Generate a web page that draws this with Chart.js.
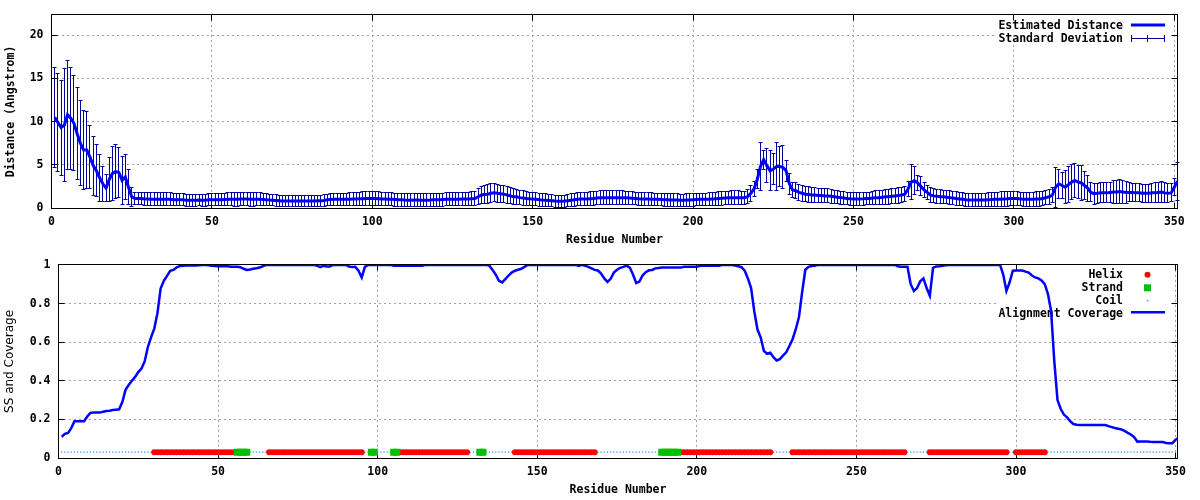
<!DOCTYPE html>
<html><head><meta charset="utf-8">
<script src="https://cdn.jsdelivr.net/npm/chart.js@4.4.0/dist/chart.umd.min.js"></script>
<style>
html,body{margin:0;padding:0;background:#fff;}
#wrap{position:relative;width:1200px;height:500px;background:#fff;}
canvas{position:absolute;left:0;}
#c1{top:0;} #c2{top:250px;}
</style></head><body>
<div id="wrap"><canvas id="c1" width="1200" height="250"></canvas><canvas id="c2" width="1200" height="250"></canvas></div>
<script>
// ---------------- data ----------------
const meanDist = [
10.5, 9.9, 9.3, 9.6, 10.8, 10.4, 9.8, 8.6, 7.5, 6.7,
6.7, 5.9, 4.9, 4.3, 3.5, 2.8, 2.3, 3.3, 4.0, 4.2,
4.1, 3.2, 3.6, 2.4, 1.3, 1.1, 1.1, 1.1, 1.05, 1.05,
1.0, 1.0, 1.0, 1.0, 1.0, 1.0, 1.0, 0.95, 0.95, 0.95,
0.95, 0.9, 0.9, 0.9, 0.9, 0.92, 0.9, 0.9, 0.95, 0.95,
0.95, 0.95, 0.95, 0.98, 1.0, 1.0, 1.0, 1.0, 1.05, 1.05,
1.05, 1.0, 1.0, 1.0, 1.0, 0.98, 0.95, 0.92, 0.9, 0.88,
0.85, 0.82, 0.82, 0.82, 0.8, 0.8, 0.8, 0.8, 0.8, 0.82,
0.82, 0.82, 0.85, 0.85, 0.88, 0.95, 0.98, 1.0, 1.0, 1.0,
1.0, 1.0, 1.02, 1.05, 1.05, 1.07, 1.08, 1.1, 1.1, 1.1,
1.1, 1.08, 1.05, 1.05, 1.02, 1.0, 0.98, 0.95, 0.95, 0.92,
0.9, 0.9, 0.92, 0.92, 0.9, 0.9, 0.9, 0.92, 0.95, 0.95,
0.95, 0.98, 1.0, 1.0, 1.0, 1.02, 1.02, 1.05, 1.05, 1.05,
1.08, 1.1, 1.3, 1.5, 1.57, 1.6, 1.7, 1.77, 1.7, 1.65,
1.6, 1.5, 1.4, 1.3, 1.3, 1.2, 1.15, 1.1, 1.07, 1.05,
1.0, 0.95, 0.92, 0.9, 0.88, 0.85, 0.8, 0.78, 0.78, 0.8,
0.85, 0.9, 0.95, 1.0, 1.04, 1.05, 1.05, 1.08, 1.1, 1.15,
1.18, 1.2, 1.2, 1.2, 1.2, 1.2, 1.2, 1.2, 1.18, 1.15,
1.12, 1.1, 1.07, 1.05, 1.04, 1.04, 1.02, 1.0, 1.0, 0.98,
0.95, 0.95, 0.92, 0.92, 0.92, 0.9, 0.9, 0.92, 0.92, 0.95,
0.98, 1.0, 1.0, 1.0, 1.02, 1.05, 1.08, 1.1, 1.12, 1.15,
1.18, 1.2, 1.2, 1.2, 1.2, 1.2, 1.3, 1.7, 2.2, 3.3,
4.8, 5.6, 4.9, 4.3, 4.5, 4.8, 4.8, 4.7, 4.3, 2.8,
2.1, 2.0, 1.8, 1.7, 1.6, 1.55, 1.5, 1.5, 1.45, 1.45,
1.4, 1.4, 1.35, 1.3, 1.25, 1.2, 1.15, 1.1, 1.07, 1.05,
1.05, 1.05, 1.07, 1.1, 1.1, 1.15, 1.2, 1.2, 1.25, 1.3,
1.3, 1.35, 1.4, 1.45, 1.5, 1.6, 2.2, 3.0, 3.15, 2.9,
2.5, 2.1, 1.8, 1.5, 1.4, 1.35, 1.3, 1.3, 1.25, 1.2,
1.15, 1.1, 1.05, 1.0, 0.95, 0.92, 0.92, 0.92, 0.92, 0.92,
0.92, 0.95, 0.97, 1.0, 1.0, 1.02, 1.05, 1.07, 1.1, 1.1,
1.1, 1.05, 1.0, 1.0, 1.0, 1.02, 1.05, 1.05, 1.1, 1.2,
1.3, 1.5, 2.4, 2.8, 2.6, 2.4, 2.7, 3.0, 3.2, 3.0,
2.9, 2.6, 2.3, 1.8, 1.65, 1.7, 1.75, 1.75, 1.75, 1.8,
1.85, 1.85, 1.9, 1.85, 1.8, 1.8, 1.8, 1.75, 1.75, 1.7,
1.7, 1.7, 1.75, 1.75, 1.8, 1.85, 1.75, 1.7, 1.75, 2.4,
3.1
];
const stdDist = [
5.8, 5.7, 5.5, 6.5, 6.3, 5.9, 5.5, 5.3, 4.9, 4.6,
4.5, 3.6, 3.4, 3.0, 2.7, 2.0, 1.6, 2.5, 3.1, 3.1,
2.9, 2.8, 2.6, 2.0, 1.1, 0.75, 0.75, 0.75, 0.75, 0.75,
0.75, 0.75, 0.75, 0.75, 0.75, 0.75, 0.75, 0.7, 0.7, 0.7,
0.7, 0.68, 0.68, 0.68, 0.68, 0.68, 0.68, 0.68, 0.7, 0.7,
0.7, 0.7, 0.7, 0.72, 0.75, 0.75, 0.78, 0.78, 0.78, 0.78,
0.78, 0.78, 0.78, 0.75, 0.75, 0.72, 0.7, 0.68, 0.66, 0.65,
0.65, 0.63, 0.63, 0.63, 0.62, 0.62, 0.62, 0.62, 0.62, 0.63,
0.63, 0.63, 0.64, 0.64, 0.65, 0.66, 0.68, 0.7, 0.7, 0.7,
0.72, 0.72, 0.74, 0.75, 0.75, 0.78, 0.8, 0.8, 0.8, 0.8,
0.8, 0.8, 0.78, 0.78, 0.76, 0.75, 0.75, 0.74, 0.74, 0.73,
0.72, 0.72, 0.73, 0.73, 0.72, 0.72, 0.72, 0.73, 0.74, 0.74,
0.74, 0.75, 0.76, 0.76, 0.76, 0.78, 0.78, 0.8, 0.8, 0.8,
0.82, 0.85, 0.95, 1.0, 1.05, 1.08, 1.1, 1.05, 1.05, 1.0,
1.0, 0.95, 0.92, 0.9, 0.88, 0.85, 0.82, 0.8, 0.78, 0.76,
0.75, 0.74, 0.73, 0.72, 0.72, 0.7, 0.7, 0.7, 0.7, 0.7,
0.7, 0.72, 0.73, 0.74, 0.75, 0.76, 0.77, 0.78, 0.8, 0.8,
0.8, 0.8, 0.8, 0.8, 0.8, 0.8, 0.8, 0.8, 0.78, 0.76,
0.75, 0.75, 0.74, 0.74, 0.72, 0.72, 0.72, 0.72, 0.72, 0.72,
0.72, 0.72, 0.72, 0.72, 0.72, 0.7, 0.7, 0.7, 0.7, 0.72,
0.72, 0.72, 0.72, 0.72, 0.74, 0.75, 0.76, 0.76, 0.78, 0.78,
0.78, 0.78, 0.78, 0.78, 0.76, 0.76, 0.8, 0.9, 0.9, 1.1,
2.8, 1.1, 2.0, 2.3, 1.8, 2.8, 2.3, 2.5, 1.2, 1.2,
0.9, 0.95, 0.95, 0.9, 0.88, 0.88, 0.85, 0.85, 0.82, 0.82,
0.8, 0.8, 0.8, 0.78, 0.76, 0.75, 0.74, 0.74, 0.73, 0.73,
0.73, 0.73, 0.74, 0.74, 0.75, 0.76, 0.78, 0.8, 0.82, 0.84,
0.85, 0.86, 0.88, 0.9, 0.9, 0.85, 0.9, 2.0, 1.6, 0.9,
1.1, 0.85, 0.85, 0.82, 0.8, 0.8, 0.8, 0.78, 0.78, 0.78,
0.76, 0.76, 0.75, 0.75, 0.74, 0.74, 0.74, 0.74, 0.75, 0.76,
0.78, 0.8, 0.8, 0.82, 0.82, 0.84, 0.84, 0.84, 0.82, 0.82,
0.8, 0.8, 0.8, 0.8, 0.8, 0.82, 0.82, 0.82, 0.85, 0.85,
0.85, 0.9, 2.3, 1.7, 1.5, 1.9, 2.1, 2.0, 2.0, 1.9,
2.0, 1.6, 1.5, 1.1, 1.2, 1.15, 1.15, 1.15, 1.15, 1.2,
1.3, 1.35, 1.35, 1.3, 1.25, 1.1, 1.05, 1.05, 1.05, 1.05,
1.05, 1.05, 1.1, 1.15, 1.2, 1.2, 1.15, 1.1, 1.05, 1.0,
2.2
];
const coverage = [
0.11, 0.125, 0.13, 0.155, 0.19, 0.19, 0.19, 0.19, 0.215, 0.234,
0.236, 0.235, 0.235, 0.24, 0.243, 0.245, 0.248, 0.25, 0.252, 0.29,
0.353, 0.378, 0.40, 0.42, 0.445, 0.463, 0.50, 0.575, 0.625, 0.67,
0.75, 0.878, 0.918, 0.943, 0.969, 0.974, 0.987, 0.994, 0.996, 0.997,
0.997, 0.997, 0.997, 0.998, 0.999, 1.0, 0.998, 0.995, 0.994, 0.993,
0.993, 0.993, 0.993, 0.99, 0.99, 0.99, 0.988, 0.98, 0.974, 0.976,
0.98, 0.983, 0.986, 0.993, 1.0, 1.0, 1.0, 1.0, 1.0, 1.0,
1.0, 1.0, 1.0, 1.0, 1.0, 1.0, 1.0, 1.0, 1.0, 1.0,
0.996, 0.988, 0.996, 0.992, 0.992, 1.0, 1.0, 1.0, 1.0, 1.0,
0.992, 0.989, 0.99, 0.97, 0.935, 0.99, 1.0, 1.0, 1.0, 1.0,
1.0, 1.0, 1.0, 1.0, 0.995, 0.995, 0.995, 0.995, 0.995, 0.995,
0.995, 0.995, 0.995, 0.995, 1.0, 1.0, 1.0, 1.0, 1.0, 1.0,
1.0, 1.0, 1.0, 1.0, 1.0, 1.0, 1.0, 1.0, 1.0, 1.0,
1.0, 1.0, 1.0, 1.0, 0.996, 0.974, 0.949, 0.918, 0.909, 0.926,
0.945, 0.96, 0.97, 0.975, 0.98, 0.99, 1.0, 1.0, 1.0, 1.0,
1.0, 1.0, 1.0, 1.0, 1.0, 1.0, 1.0, 1.0, 1.0, 1.0,
1.0, 1.0, 0.995, 1.0, 0.996, 0.99, 0.982, 0.974, 0.971, 0.955,
0.93, 0.912, 0.928, 0.96, 0.975, 0.985, 0.99, 0.996, 0.986, 0.95,
0.906, 0.914, 0.945, 0.962, 0.972, 0.974, 0.982, 0.984, 0.986, 0.986,
0.986, 0.986, 0.986, 0.986, 0.986, 0.99, 0.99, 0.99, 0.99, 0.99,
0.995, 0.995, 0.995, 0.995, 0.995, 0.995, 0.995, 1.0, 1.0, 1.0,
1.0, 0.997, 0.993, 0.988, 0.97, 0.93, 0.88, 0.76, 0.665, 0.625,
0.555, 0.54, 0.545, 0.522, 0.505, 0.512, 0.53, 0.547, 0.58, 0.615,
0.667, 0.73, 0.86, 0.975, 0.99, 0.994, 0.996, 1.0, 1.0, 1.0,
1.0, 1.0, 1.0, 1.0, 1.0, 1.0, 1.0, 1.0, 1.0, 1.0,
1.0, 1.0, 1.0, 1.0, 1.0, 1.0, 1.0, 1.0, 1.0, 1.0,
1.0, 1.0, 0.993, 0.99, 0.99, 0.99, 0.9, 0.865, 0.88, 0.915,
0.93, 0.88, 0.84, 0.985, 0.992, 0.993, 0.995, 0.998, 1.0, 1.0,
1.0, 1.0, 1.0, 1.0, 1.0, 1.0, 1.0, 1.0, 1.0, 1.0,
1.0, 1.0, 1.0, 1.0, 1.0, 0.95, 0.865, 0.91, 0.97, 0.971,
0.971, 0.971, 0.965, 0.96, 0.945, 0.935, 0.93, 0.92, 0.9, 0.85,
0.76, 0.5, 0.3, 0.255, 0.225, 0.21, 0.19, 0.176, 0.172, 0.171,
0.171, 0.171, 0.171, 0.171, 0.171, 0.171, 0.171, 0.171, 0.165, 0.16,
0.155, 0.152, 0.148, 0.14, 0.13, 0.122, 0.108, 0.085, 0.086, 0.086,
0.086, 0.084, 0.083, 0.083, 0.083, 0.083, 0.078, 0.077, 0.077, 0.095,
0.105
];
// secondary structure segments (H helix, E strand, C coil)
const ssType = ['C','H','E','C','H','C','E','C','E','H','C','E','C','H','C','E','H','C','H','C','H','C','H','C'];
const ssFrom = [1,30,56,60,66,96,98,100,105,107,129,132,134,143,169,189,195,224,230,266,273,298,300,310];
const ssTo   = [29,55,59,65,95,97,99,104,106,128,131,133,142,168,188,194,223,229,265,272,297,299,309,351];
const ssLevel = 0.03;
const firstResidue = 1;
const xTickValues = [0, 50, 100, 150, 200, 250, 300, 350];
const distTickValues = [0, 5, 10, 15, 20];
const covTickValues = [0, 0.2, 0.4, 0.6, 0.8, 1];
const topLegendLabels = ['Estimated Distance', 'Standard Deviation'];
const bottomLegendLabels = ['Helix', 'Strand', 'Coil', 'Alignment Coverage'];
const xTitle = 'Residue Number';
const distTitle = 'Distance (Angstrom)';
const covTitle = 'SS and Coverage';

// ---------------- derived ----------------
const residues = meanDist.map((_, i) => firstResidue + i);
const meanPts = residues.map((r, i) => ({x: r, y: meanDist[i]}));
const covPts = residues.map((r, i) => ({x: r, y: coverage[i]}));
const helixPts = [], strandPts = [], coilPts = [];
ssType.forEach((t, k) => {
  for (let r = ssFrom[k]; r <= ssTo[k]; r++) {
    const p = {x: r, y: ssLevel};
    if (t === 'H') helixPts.push(p); else if (t === 'E') strandPts.push(p); else coilPts.push(p);
  }
});

// ---------------- style ----------------
const MONO = '"DejaVu Sans Mono", monospace';
const BOLD = {family: MONO, size: 11.5, weight: 'bold'};
const LEGEND_FONT = 'bold 11.5px "DejaVu Sans Mono", monospace';
const BLUE = '#0000ff';
const ERR = '#0000a0';
const RED = '#ff0000';
const GREEN = '#00c000';
const COIL = '#1e90ff';
const al = v => Math.round(v - 0.5) + 0.5;

function seg(ctx, x1, y1, x2, y2) { ctx.beginPath(); ctx.moveTo(x1, y1); ctx.lineTo(x2, y2); ctx.stroke(); }

const framePlugin = {
  id: 'frame',
  beforeDatasetsDraw(chart, args, opts) {
    const ctx = chart.ctx, a = chart.chartArea, sx = chart.scales.x, sy = chart.scales.y;
    ctx.save();
    ctx.setLineDash([]);
    if (opts.legend) opts.legend(ctx, chart);
    if (opts.extra) opts.extra(ctx, chart);
    ctx.strokeStyle = '#000'; ctx.lineWidth = 1; ctx.setLineDash([]);
    const L = al(a.left), R = al(a.right), T = al(a.top), B = al(a.bottom);
    ctx.strokeRect(L, T, R - L, B - T);
    ctx.beginPath();
    sx.ticks.forEach(t => {
      const p = al(sx.getPixelForValue(t.value));
      ctx.moveTo(p, B); ctx.lineTo(p, B - 6);
      ctx.moveTo(p, T); ctx.lineTo(p, T + 6);
    });
    sy.ticks.forEach(t => {
      const p = al(sy.getPixelForValue(t.value));
      ctx.moveTo(L, p); ctx.lineTo(L + 6, p);
      ctx.moveTo(R, p); ctx.lineTo(R - 6, p);
    });
    ctx.stroke();
    ctx.restore();
  }
};

function axisX(max, title) {
  return {
    type: 'linear', min: 0, max: max,
    afterBuildTicks: s => { s.ticks = xTickValues.map(v => ({value: v})); },
    afterFit: s => { s.height = 42; },
    grid: {color: '#a0a0a0', lineWidth: 1, drawTicks: false},
    border: {display: false, dash: [2, 3]},
    ticks: {padding: 7, font: BOLD, color: '#000', maxRotation: 0, autoSkip: false, callback: v => String(v)},
    title: {display: true, text: title, font: BOLD, color: '#000', padding: {top: 0, bottom: 3}}
  };
}
function axisY(max, tickVals, width, title, titleFont, titlePad) {
  return {
    type: 'linear', min: 0, max: max,
    afterBuildTicks: s => { s.ticks = tickVals.map(v => ({value: v})); },
    afterFit: s => { s.width = width; },
    grid: {color: '#a0a0a0', lineWidth: 1, drawTicks: false},
    border: {display: false, dash: [2, 3]},
    ticks: {padding: 8, font: BOLD, color: '#000', autoSkip: false, callback: v => String(v)},
    title: {display: true, text: title, font: titleFont, color: '#000', padding: {top: titlePad, bottom: 0}}
  };
}

// ---------------- top chart ----------------
new Chart(document.getElementById('c1'), {
  type: 'line',
  data: {datasets: [{
    label: topLegendLabels[0], data: meanPts, borderColor: BLUE, borderWidth: 3,
    pointRadius: 0, tension: 0, fill: false
  }]},
  options: {
    responsive: false, animation: false, events: [], devicePixelRatio: 1,
    layout: {padding: {left: 0, right: 22.5, top: 14, bottom: 0}},
    plugins: {
      legend: {display: false}, tooltip: {enabled: false},
      frame: {
        legend: (ctx) => {
          ctx.fillStyle = '#fff'; ctx.fillRect(997, 15, 174, 28);
          ctx.font = LEGEND_FONT; ctx.fillStyle = '#000';
          ctx.textAlign = 'right'; ctx.textBaseline = 'middle';
          ctx.fillText(topLegendLabels[0], 1123, 26);
          ctx.fillText(topLegendLabels[1], 1123, 39.5);
          ctx.strokeStyle = BLUE; ctx.lineWidth = 3; seg(ctx, 1131, 25, 1165, 25);
          ctx.strokeStyle = ERR; ctx.lineWidth = 1;
          seg(ctx, 1131, 38.5, 1165, 38.5);
          seg(ctx, 1131.5, 35, 1131.5, 42); seg(ctx, 1147.5, 35, 1147.5, 42); seg(ctx, 1164.5, 35, 1164.5, 42);
        },
        extra: (ctx, chart) => {
          const a = chart.chartArea, sx = chart.scales.x, sy = chart.scales.y;
          ctx.save();
          ctx.beginPath(); ctx.rect(a.left - 4, a.top, a.right - a.left + 8, a.bottom - a.top + 1); ctx.clip();
          ctx.strokeStyle = ERR; ctx.lineWidth = 1;
          ctx.beginPath();
          residues.forEach((r, i) => {
            const px = al(sx.getPixelForValue(r));
            const yt = al(sy.getPixelForValue(meanDist[i] + stdDist[i]));
            const yb = al(sy.getPixelForValue(meanDist[i] - stdDist[i]));
            ctx.moveTo(px, yt); ctx.lineTo(px, yb);
            ctx.moveTo(px - 2, yt); ctx.lineTo(px + 2, yt);
            ctx.moveTo(px - 2, yb); ctx.lineTo(px + 2, yb);
          });
          ctx.stroke();
          ctx.restore();
        }
      }
    },
    scales: {
      x: axisX(351, xTitle),
      y: axisY(22.34, distTickValues, 51.5, distTitle, BOLD, 4)
    }
  },
  plugins: [framePlugin]
});

// ---------------- bottom chart ----------------
new Chart(document.getElementById('c2'), {
  type: 'line',
  data: {datasets: [
    {label: bottomLegendLabels[3], data: covPts, borderColor: BLUE, borderWidth: 2.5, pointRadius: 0, tension: 0, fill: false, order: 0},
    {label: bottomLegendLabels[1], data: strandPts, showLine: false, pointStyle: 'rect', pointRadius: 4.9, pointBackgroundColor: GREEN, pointBorderWidth: 0, order: 1},
    {label: bottomLegendLabels[0], data: helixPts, showLine: false, pointStyle: 'circle', pointRadius: 3, pointBackgroundColor: RED, pointBorderWidth: 0, order: 2},
    {label: bottomLegendLabels[2], data: coilPts, showLine: false, pointStyle: 'rect', pointRadius: 0.85, pointBackgroundColor: COIL, pointBorderWidth: 0, order: 3}
  ]},
  options: {
    responsive: false, animation: false, events: [], devicePixelRatio: 1,
    layout: {padding: {left: 0, right: 22.5, top: 13, bottom: 0}},
    plugins: {
      legend: {display: false}, tooltip: {enabled: false},
      frame: {
        legend: (ctx) => {
          ctx.fillStyle = '#fff'; ctx.fillRect(997, 14, 174, 54);
          ctx.font = LEGEND_FONT; ctx.fillStyle = '#000';
          ctx.textAlign = 'right'; ctx.textBaseline = 'middle';
          ctx.fillText(bottomLegendLabels[0], 1123, 25.5);
          ctx.fillText(bottomLegendLabels[1], 1123, 38.3);
          ctx.fillText(bottomLegendLabels[2], 1123, 51.1);
          ctx.fillText(bottomLegendLabels[3], 1123, 63.9);
          ctx.fillStyle = RED; ctx.beginPath(); ctx.arc(1147.5, 24.7, 3, 0, Math.PI * 2); ctx.fill();
          ctx.fillStyle = GREEN; ctx.fillRect(1144, 34.3, 7, 7);
          ctx.fillStyle = COIL; ctx.fillRect(1147, 50, 1.3, 1.3);
          ctx.strokeStyle = BLUE; ctx.lineWidth = 2.5; seg(ctx, 1131, 62.3, 1165, 62.3);
        }
      }
    },
    scales: {
      x: axisX(350.6, xTitle),
      y: axisY(1, covTickValues, 58.5, covTitle, {family: '"DejaVu Sans", sans-serif', size: 12, weight: 'normal'}, 3)
    }
  },
  plugins: [framePlugin]
});
</script>
</body></html>
